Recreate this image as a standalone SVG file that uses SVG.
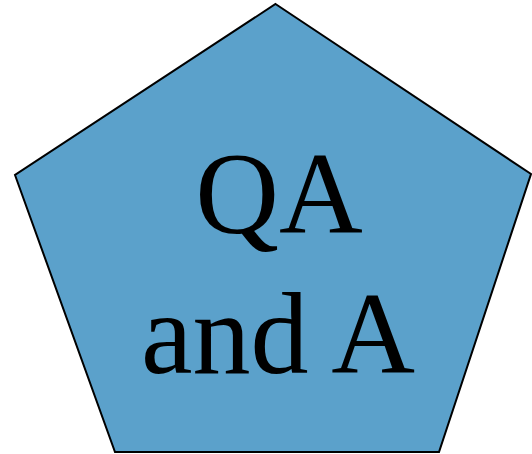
<svg xmlns="http://www.w3.org/2000/svg" width="532" height="454" viewBox="0 0 532 454">
<style>
.shape{fill:#5BA1CB;stroke:#000;stroke-width:2}
.lbl{font-family:"Liberation Serif","Times New Roman",serif;font-size:116px;fill:#000;text-anchor:middle}
</style>
<g id="node-qa">
<polygon class="shape" points="275.5,4 531,174 439,452 115,452 15,175"/>
<text class="lbl" x="279" y="233">QA</text>
<text class="lbl" x="278" y="373">and A</text>
</g>
<g id="connectors"></g>
</svg>
